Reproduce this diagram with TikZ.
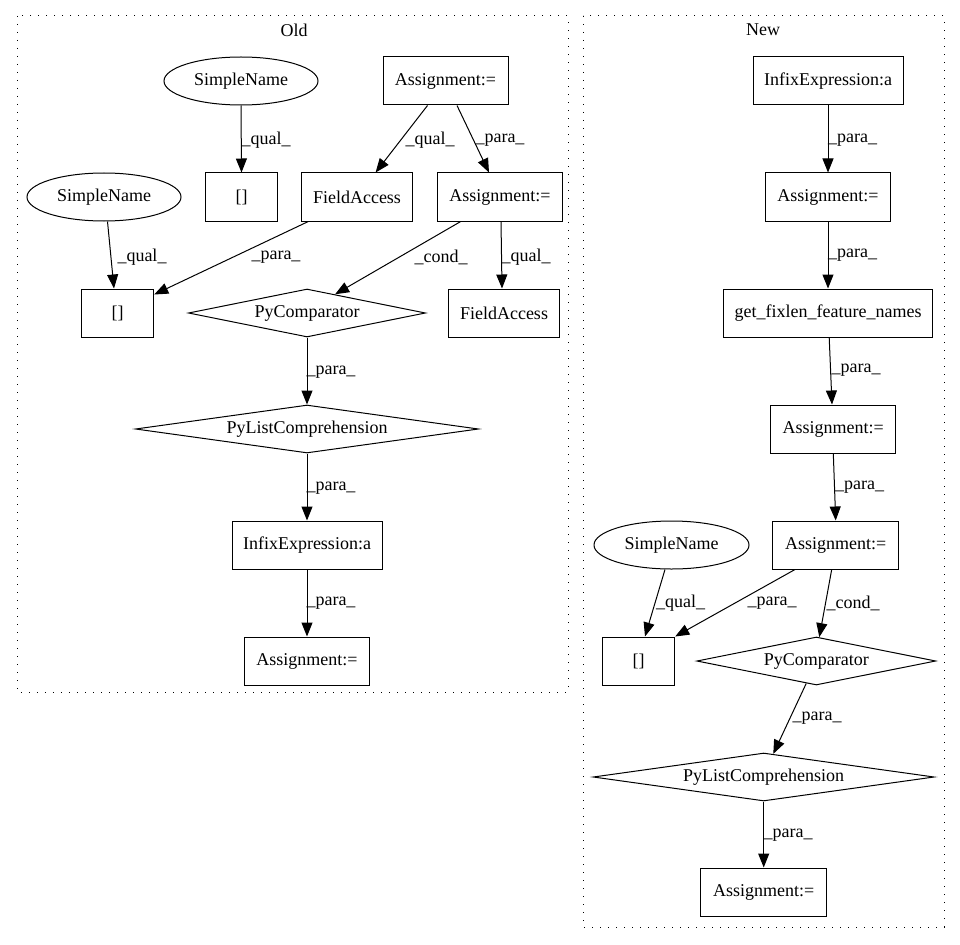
\documentclass[tikz,border=0pt]{standalone}
\usepackage{fontspec}
\setmainfont{Liberation Serif}
\usetikzlibrary{shapes.geometric,arrows.meta,calc}
\begin{document}
\begin{tikzpicture}[x=1pt,y=-1pt,
  every node/.style={font=\fontsize{18}{21}\selectfont},
  gbox/.style={draw, rectangle, line width=1pt, minimum height=48pt, inner sep=0pt},
  gell/.style={draw, ellipse, line width=1pt, minimum width=154pt, minimum height=48pt, inner sep=0pt},
  gdia/.style={draw, diamond, aspect=7, line width=1pt, minimum height=48pt, inner sep=0pt},
  conn/.style={line width=1pt, -{Triangle[length=14pt,width=11pt]}},
  lbl/.style={inner sep=0pt},
  clus/.style={line width=1pt, dash pattern=on 1.3pt off 6.7pt}
]
\useasboundingbox (0,0) rectangle (960,944);
% clusters
\draw[clus] (17,16) rectangle (568,692);
\draw[clus] (583,16) rectangle (944,927);
\node[lbl] (oldlbl) at (294,30) {Old};
\node[lbl] (newlbl) at (763,30) {New};

% Old nodes
\node[gell] (sn1) at (241,81) {SimpleName};
\node[gbox, minimum width=125pt] (at) at (445.5,81) {Assignment:=};
\node[gbox, minimum width=72pt] (bt) at (241.5,197) {[]};
\node[gbox, minimum width=111pt] (fa1) at (357,197) {FieldAccess};
\node[gbox, minimum width=125pt] (am) at (500,197) {Assignment:=};
\node[gell] (sn2) at (104,197) {SimpleName};
\node[gbox, minimum width=72pt] (bl) at (117.7,313) {[]};
\node[gdia, minimum width=237pt] (pc) at (307,313) {PyComparator};
\node[gbox, minimum width=111pt] (fa2) at (504,313) {FieldAccess};
\node[gdia, minimum width=343pt] (plc) at (307,429) {PyListComprehension};
\node[gbox, minimum width=150pt] (ie) at (307,545) {InfixExpression:a};
\node[gbox, minimum width=125pt] (ab) at (307,661) {Assignment:=};

% New nodes
\node[gbox, minimum width=150pt] (nie) at (828,81) {InfixExpression:a};
\node[gbox, minimum width=125pt] (na1) at (828,197) {Assignment:=};
\node[gbox, minimum width=209pt] (ng) at (828,313) {get\_fixlen\_feature\_names};
\node[gbox, minimum width=125pt] (na2) at (833.3,429) {Assignment:=};
\node[gbox, minimum width=126pt] (na3) at (835.7,545) {Assignment:=};
\node[gell, minimum width=155pt] (nsn) at (671.5,545) {SimpleName};
\node[gbox, minimum width=72pt] (nb) at (638.7,661) {[]};
\node[gdia, minimum width=239pt] (npc) at (816.3,661) {PyComparator};
\node[gdia, minimum width=341pt] (nplc) at (763.7,777) {PyListComprehension};
\node[gbox, minimum width=126pt] (na4) at (763.7,892) {Assignment:=};

% Old edges
\draw[conn] (sn1.south) -- (bt.north);
\draw[conn] ([xshift=-18pt]at.south) -- ([xshift=18.6pt]fa1.north);
\draw[conn] ([xshift=11.5pt]at.south) -- ([xshift=-11pt]am.north);
\draw[conn] ([xshift=3.5pt]sn2.south) -- ([xshift=-3.7pt]bl.north);
\draw[conn] ([xshift=-48.7pt]fa1.south) -- ([yshift=-6pt]bl.north east);
\draw[conn] ([xshift=-39.3pt]am.south) -- ($(pc.north)!0.236!(pc.east)$);
\draw[conn] ([xshift=1pt]am.south) -- ([xshift=-2pt]fa2.north);
\draw[conn] (pc.south) -- (plc.north);
\draw[conn] (plc.south) -- (ie.north);
\draw[conn] (ie.south) -- (ab.north);

% New edges
\draw[conn] (nie.south) -- (na1.north);
\draw[conn] (na1.south) -- (ng.north);
\draw[conn] ([xshift=1.2pt]ng.south) -- ([xshift=-1.3pt]na2.north);
\draw[conn] (na2.south) -- (na3.north);
\draw[conn] ([xshift=-6.5pt]nsn.south) -- ([xshift=6.3pt]nb.north);
\draw[conn] ([xshift=-40.7pt]na3.south) -- (nb.north east);
\draw[conn] ([xshift=-4pt]na3.south) -- ($(npc.north)!0.025!(npc.east)$);
\draw[conn] ($(npc.south)!0.084!(npc.west)$) -- ($(nplc.north)!0.056!(nplc.east)$);
\draw[conn] (nplc.south) -- (na4.north);

% Old labels
\node[lbl] (l1) at (266,140) {\_qual\_};
\node[lbl] (l2) at (430,140) {\_qual\_};
\node[lbl] (l3) at (500,140) {\_para\_};
\node[lbl] (l4) at (142,257) {\_qual\_};
\node[lbl] (l5) at (276,257) {\_para\_};
\node[lbl] (l6) at (441,257) {\_cond\_};
\node[lbl] (l7) at (526,257) {\_qual\_};
\node[lbl] (l8) at (331,372) {\_para\_};
\node[lbl] (l9) at (331,488) {\_para\_};
\node[lbl] (l10) at (331,603) {\_para\_};

% New labels
\node[lbl] (m1) at (852.5,140) {\_para\_};
\node[lbl] (m2) at (852.5,255) {\_para\_};
\node[lbl] (m3) at (856,370) {\_para\_};
\node[lbl] (m4) at (859.5,487) {\_para\_};
\node[lbl] (m5) at (680.5,603) {\_qual\_};
\node[lbl] (m6) at (772,603) {\_para\_};
\node[lbl] (m7) at (853,603) {\_cond\_};
\node[lbl] (m8) at (817,718) {\_para\_};
\node[lbl] (m9) at (788,835) {\_para\_};
\end{tikzpicture}
\end{document}
